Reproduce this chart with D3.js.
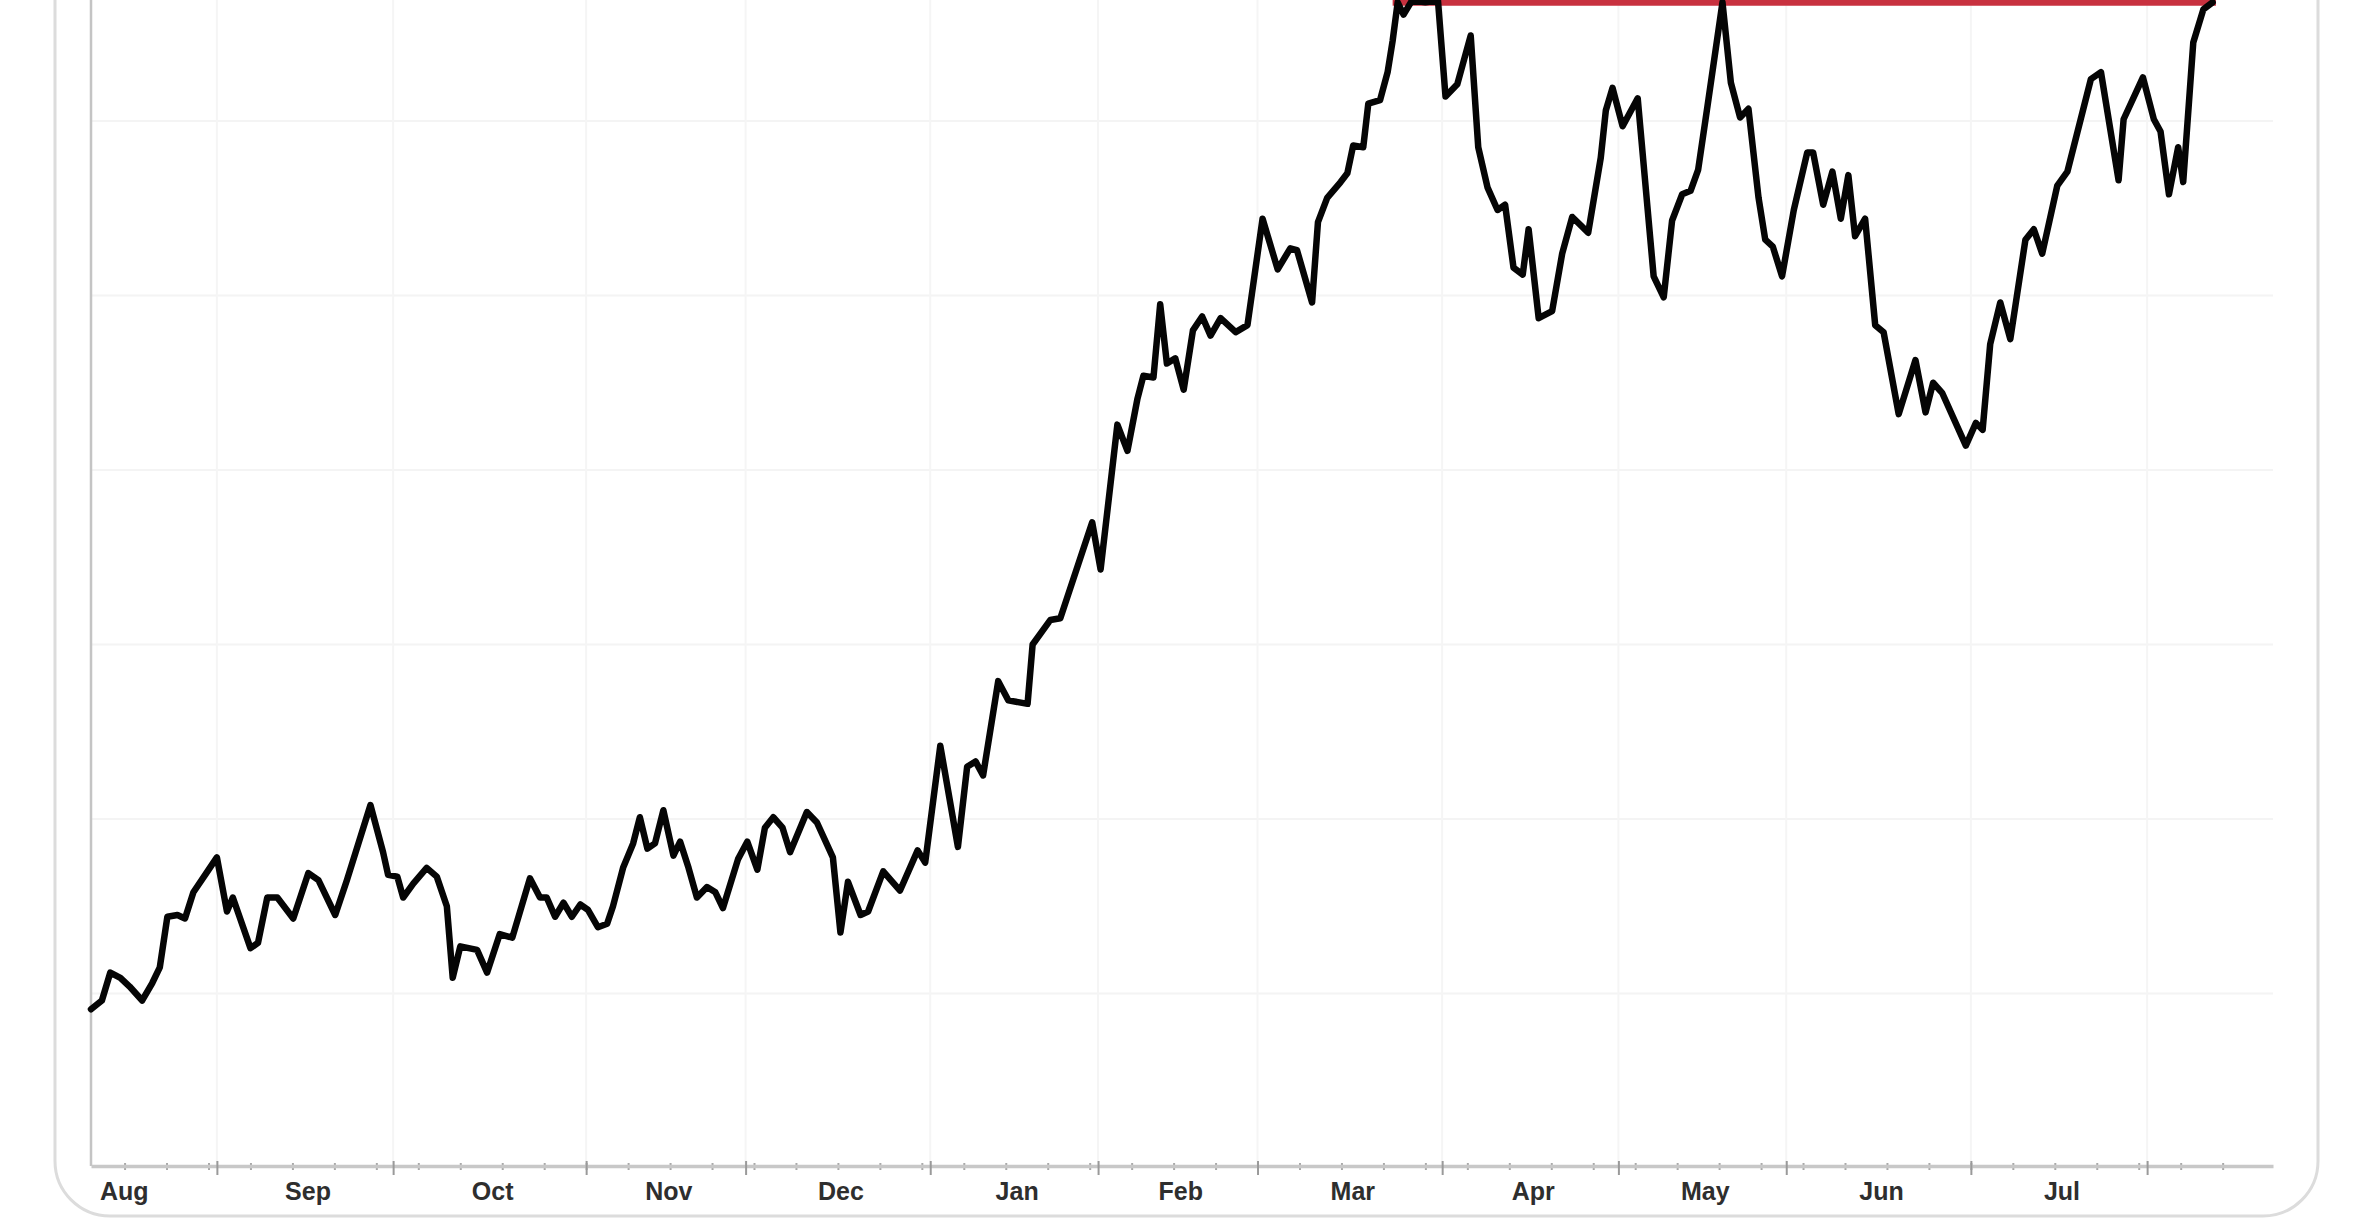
<!DOCTYPE html>
<html>
<head>
<meta charset="utf-8">
<script src="https://cdn.jsdelivr.net/npm/d3@7"></script>
<style>
  html, body { margin: 0; padding: 0; background: #fff; }
  svg { display: block; }
</style>
</head>
<body>
<div id="chart"></div>
<script>
// one year of daily closes, x = trading day index from mid August
const priceSeries = [
  [0,109.1],[1.3,109.6],[2.3,111.2],[3.5,110.9],[4.6,110.4],[6.1,109.6],[7.3,110.6],[8.2,111.5],
  [9.1,114.4],[10.3,114.5],[11.2,114.3],[12.2,115.8],[13.6,116.8],[15.0,117.8],[16.2,114.7],[16.9,115.5],
  [19.0,112.6],[19.9,112.9],[21.0,115.5],[22.2,115.5],[24.1,114.3],[25.9,116.9],[27.1,116.5],[29.1,114.5],
  [30.5,116.5],[33.3,120.8],[34.8,118.1],[35.4,116.8],[36.5,116.7],[37.2,115.5],[38.4,116.3],[40.0,117.2],
  [41.2,116.7],[42.4,115.0],[43.1,110.9],[44.0,112.7],[46.0,112.5],[47.2,111.2],[48.7,113.4],[50.2,113.2],
  [52.3,116.6],[53.5,115.5],[54.3,115.5],[55.3,114.4],[56.3,115.2],[57.3,114.4],[58.3,115.1],[59.2,114.8],
  [60.4,113.8],[61.5,114.0],[62.2,115.0],[63.4,117.2],[64.6,118.6],[65.4,120.1],[66.3,118.3],[67.2,118.6],
  [68.2,120.5],[69.4,117.9],[70.2,118.7],[71.2,117.2],[72.2,115.5],[73.4,116.1],[74.4,115.8],[75.3,114.9],
  [77.1,117.7],[78.2,118.7],[79.4,117.1],[80.3,119.5],[81.3,120.1],[82.4,119.5],[83.3,118.1],[85.3,120.4],
  [86.5,119.8],[88.4,117.8],[89.3,113.5],[90.2,116.4],[91.7,114.5],[92.6,114.7],[94.4,117.0],[96.4,115.9],
  [98.5,118.2],[99.4,117.5],[101.2,124.2],[103.3,118.4],[104.4,123.0],[105.4,123.3],[106.3,122.5],[108.1,127.9],
  [109.3,126.8],[111.6,126.6],[112.2,130.0],[114.3,131.4],[115.5,131.5],[119.3,137.0],[120.3,134.3],[122.3,142.6],
  [123.5,141.1],[124.7,144.1],[125.4,145.4],[126.6,145.3],[127.4,149.5],[128.2,146.1],[129.2,146.4],[130.2,144.6],
  [131.3,148.0],[132.4,148.8],[133.4,147.7],[134.6,148.7],[136.4,147.9],[137.8,148.3],[139.6,154.4],[141.4,151.5],
  [142.9,152.7],[143.7,152.6],[145.5,149.6],[146.2,154.2],[147.3,155.6],[148.9,156.5],[149.7,157.0],[150.4,158.6],
  [151.6,158.5],[152.2,161.0],[153.6,161.2],[154.5,162.8],[155.1,164.6],[155.7,166.8],[156.4,166.1],[157.4,166.9],
  [159.0,166.8],[160.5,166.9],[161.4,161.4],[162.8,162.1],[164.4,164.9],[165.3,158.5],[166.4,156.2],[167.6,154.9],
  [168.5,155.2],[169.5,151.6],[170.6,151.2],[171.3,153.8],[172.5,148.7],[174.1,149.1],[175.3,152.4],[176.5,154.5],
  [178.4,153.6],[179.9,157.9],[180.5,160.6],[181.3,161.9],[182.5,159.7],[184.3,161.3],[186.2,151.1],[187.4,149.9],
  [188.4,154.3],[189.6,155.8],[190.6,156.0],[191.5,157.2],[192.6,160.8],[194.4,166.8],[195.4,162.2],[196.5,160.2],
  [197.5,160.7],[198.7,155.6],[199.5,153.2],[200.4,152.8],[201.5,151.1],[202.9,154.9],[204.5,158.2],[205.2,158.2],
  [206.4,155.2],[207.5,157.1],[208.5,154.4],[209.4,156.9],[210.2,153.4],[211.4,154.4],[212.6,148.3],[213.6,147.9],
  [215.4,143.2],[217.4,146.3],[218.6,143.3],[219.5,145.0],[220.6,144.4],[223.4,141.4],[224.6,142.7],[225.4,142.3],
  [226.3,147.2],[227.5,149.6],[228.7,147.5],[230.5,153.2],[231.5,153.8],[232.5,152.4],[234.3,156.3],[235.5,157.1],
  [238.3,162.4],[239.5,162.8],[241.6,156.6],[242.2,160.1],[244.5,162.5],[245.8,160.1],[246.6,159.4],[247.6,155.8],
  [248.7,158.5],[249.3,156.5],[250.5,164.5],[251.7,166.4],[252.8,166.8]
];

// month boundaries (trading day index) and labels
const monthNames = ["Aug", "Sep", "Oct", "Nov", "Dec", "Jan", "Feb", "Mar", "Apr", "May", "Jun", "Jul", "Aug"];
const monthStarts = [0, 15, 36, 59, 78, 100, 120, 139, 161, 182, 202, 224, 245];

// horizontal resistance line
const resistanceLevel = 166.8;
const resistanceFrom = 155.1;
const resistanceTo = 253.2;

const gridValues = [110, 120, 130, 140, 150, 160];

const W = 2372, H = 1224;
const left = 91, right = 2273, bottom = 1166;

const svg = d3.select("#chart")
  .append("svg")
  .attr("width", W)
  .attr("height", H);

// rounded outer card (top edge is out of view)
svg.append("rect")
  .attr("x", 55)
  .attr("y", -80)
  .attr("width", 2318 - 55)
  .attr("height", 1216 + 80)
  .attr("rx", 55)
  .attr("ry", 55)
  .attr("fill", "#fff")
  .attr("stroke", "#dcdcdc")
  .attr("stroke-width", 3);

const x = d3.scaleLinear()
  .domain([0, 260])
  .range([left, right]);

const y = d3.scaleLinear()
  .domain([100, 160])
  .range([1168, 121]);

// faint grid
svg.append("g")
  .selectAll("line")
  .data(gridValues)
  .enter()
  .append("line")
  .attr("x1", left)
  .attr("x2", right)
  .attr("y1", d => y(d))
  .attr("y2", d => y(d))
  .attr("stroke", "#f4f4f4")
  .attr("stroke-width", 2);

svg.append("g")
  .selectAll("line")
  .data(monthStarts.slice(1))
  .enter()
  .append("line")
  .attr("x1", d => x(d))
  .attr("x2", d => x(d))
  .attr("y1", 0)
  .attr("y2", bottom)
  .attr("stroke", "#f5f5f5")
  .attr("stroke-width", 2);

// y axis line
svg.append("line")
  .attr("x1", left).attr("x2", left)
  .attr("y1", 0).attr("y2", bottom)
  .attr("stroke", "#c4c4c4")
  .attr("stroke-width", 2.5);

// x axis: weekly minor ticks, monthly major ticks, no default labels
const xAxis = svg.append("g")
  .attr("transform", `translate(0, ${bottom})`);

xAxis.append("g")
  .call(d3.axisBottom(x).tickValues(d3.range(4, 258, 5)).tickSize(7).tickFormat(""))
  .call(g => g.select(".domain").remove())
  .selectAll("line")
  .attr("stroke", "#a8a8a8")
  .attr("stroke-width", 2)
  .attr("transform", "translate(0,-3)");

xAxis.append("g")
  .call(d3.axisBottom(x).tickValues(monthStarts.slice(1)).tickSize(14).tickFormat("").tickSizeOuter(0))
  .call(g => g.select(".domain")
      .attr("stroke", "#c8c8c8")
      .attr("stroke-width", 3.5))
  .selectAll(".tick line")
  .attr("stroke", "#9a9a9a")
  .attr("stroke-width", 2)
  .attr("transform", "translate(0,-5)");

// month labels, centred in each month span
const labelPos = monthStarts.slice(0, -1).map((s, i) => (s + monthStarts[i + 1]) / 2);

svg.append("g")
  .selectAll("text")
  .data(labelPos)
  .enter()
  .append("text")
  .attr("x", (d, i) => i === 0 ? x(0) + 9 : x(d) + 3)
  .attr("y", 1200)
  .attr("text-anchor", (d, i) => i === 0 ? "start" : "middle")
  .attr("font-family", "'Liberation Sans', Arial, sans-serif")
  .attr("font-weight", "bold")
  .attr("font-size", 25)
  .attr("fill", "#2e2e2e")
  .text((d, i) => monthNames[i]);

// resistance
svg.append("line")
  .attr("x1", x(resistanceFrom))
  .attr("x2", x(resistanceTo))
  .attr("y1", y(resistanceLevel))
  .attr("y2", y(resistanceLevel))
  .attr("stroke", "#c8313f")
  .attr("stroke-width", 7);

// price line
const line = d3.line()
  .x(d => x(d[0]))
  .y(d => y(d[1]));

svg.append("path")
  .datum(priceSeries)
  .attr("d", line)
  .attr("fill", "none")
  .attr("stroke", "#050505")
  .attr("stroke-width", 6.5)
  .attr("stroke-linejoin", "round")
  .attr("stroke-linecap", "round");
</script>
</body>
</html>
